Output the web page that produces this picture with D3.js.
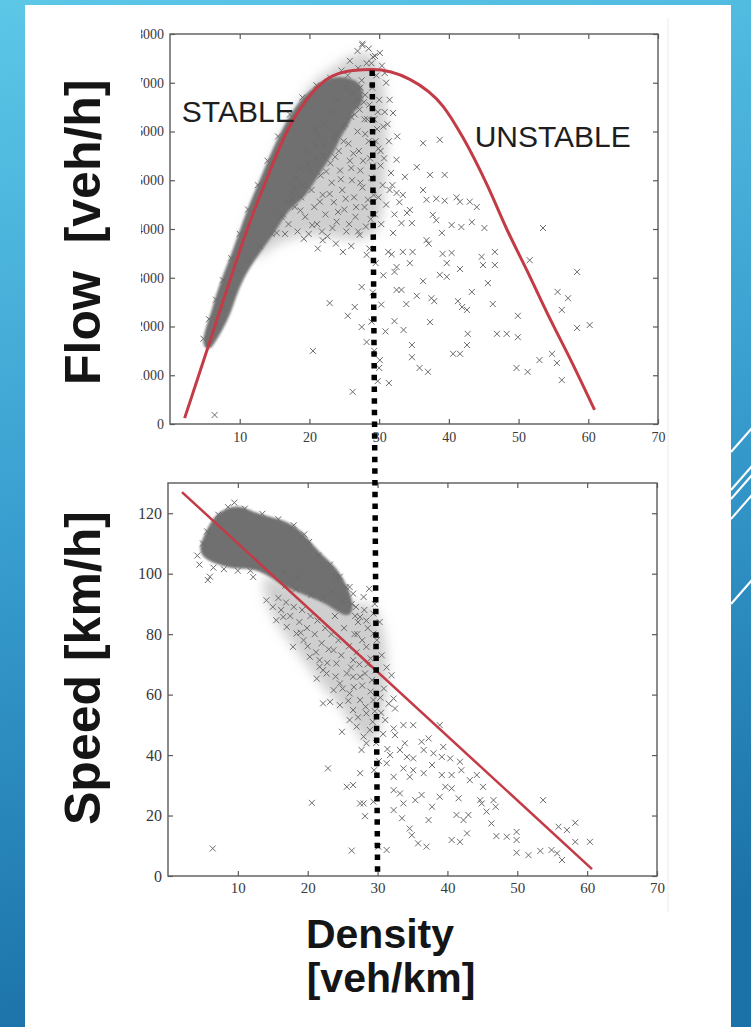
<!DOCTYPE html>
<html>
  <head>
    <title>Flow / Speed vs Density</title>
    <meta charset="utf-8">
    <script src="https://d3js.org/d3.v7.min.js"></script>
    <style>
      body { margin: 0; }
      svg { display: block; }
    </style>
  </head>
  <body>
    <div class="chart"></div>
    <script>

    // ---- values ----
    var flowTicks = [0, 1000, 2000, 3000, 4000, 5000, 6000, 7000, 8000];
    var speedTicks = [0, 20, 40, 60, 80, 100, 120];
    var densityTicks = [10, 20, 30, 40, 50, 60, 70];

    // flow-density curve (density, flow)
    var flowCurve = [[2.1,120],[6.4,1990],[8.6,2950],[10.8,3880],[13.8,5000],[16.9,6030],[19.6,6650],[22.4,7060],
      [26.2,7250],[29.0,7270],[34.4,7070],[39.2,6510],[42.0,5880],[45.5,4900],[48.3,4000],[51.3,3120],
      [54.5,2160],[57.7,1250],[60.9,290]];

    // speed-density line (density, speed)
    var speedLine = [[2.0,127],[60.7,2.3]];

    // critical density marker: top end (density, flow), bottom end (density, speed)
    var criticalTop = [29.0, 7250];
    var criticalBottom = [30.0, 0.7];

    var regimeLabels = [{text: "STABLE", k: 1.7, q: 6190}, {text: "UNSTABLE", k: 43.7, q: 5680}];

    // dense part of the flow cloud (outline)
    var flowCore = [[4.7,1620],[5.15,1925],[6.0,2275],[6.8,2675],[7.8,3075],[9.05,3525],[10.15,3975],[11.7,4575],
      [13.1,5025],[14.65,5575],[16.15,6025],[17.65,6400],[19.3,6725],[21.0,6925],[22.6,7075],[24.55,7115],
      [26.55,7050],[27.7,6875],[27.4,6500],[26.2,6450],[25.8,6200],[24.8,6000],[24.2,5850],[23.5,5600],
      [21.8,5250],[20.5,4950],[19.2,4650],[16.8,4400],[15.3,4020],[14.2,3800],[12.2,3400],
      [10.4,3000],[9.3,2600],[8.6,2280],[7.4,1930],[6.0,1600],[5.6,1550]];

    // looser part of the flow cloud (outline)
    var flowHalo = [[10.0,3700],[12.5,4600],[14.5,5300],[16.5,6050],[19.0,6750],[21.5,7150],[24.5,7400],
      [27.0,7650],[29.3,7600],[30.6,7100],[31.2,6300],[31.0,5300],[30.6,4400],[29.8,3900],[27.0,3750],
      [23.0,3850],[19.0,3900],[15.0,3700],[12.0,3300]];

    // single measurements (density, flow)
    var flowPoints = [
      [5.5,1650],[6.8,2000],[7.6,2380],[8.9,2700],[9.8,3150],[11.2,3350],[12.9,3650],[14.6,3900],[16.0,4250],
      [17.6,4600],[19.0,4900],[20.0,5200],[21.0,5450],[22.2,5700],[23.5,5850],[24.8,6100],[26.0,6300],
      [26.8,6650],[27.3,6900],[25.5,7150],[23.0,7100],[21.0,6950],[19.0,6700],[17.2,6350],[15.5,5900],
      [14.0,5400],[12.6,4900],[11.2,4400],[10.0,3900],[8.8,3400],[7.6,2950],[6.6,2550],[5.6,2150],[4.8,1750],
      [16.2,4300],[17.0,4100],[17.9,4450],[18.3,3950],[18.8,4650],[19.4,4250],[19.9,3900],[20.3,4800],
      [20.7,4450],[21.1,4100],[21.6,5100],[21.9,4700],[22.3,4300],[22.6,3850],[23.0,5350],[23.2,4950],
      [23.5,4550],[23.9,4150],[24.2,5600],[24.4,5200],[24.7,4800],[25.0,4400],[25.3,3950],[25.6,5750],
      [25.8,5400],[26.1,5000],[26.4,4650],[26.6,4250],[26.9,6000],[27.1,5600],[27.3,5200],[27.6,4850],
      [27.9,4450],[28.1,4050],[28.3,6250],[28.5,5800],[28.7,5450],[28.9,5050],[29.2,4700],[29.4,4300],
      [29.7,6050],[29.9,5650],[30.2,5300],[30.5,4900],[30.8,6400],[31.0,4500],[31.4,5800],[31.7,5150],
      [32.2,4300],[22.0,5500],[23.8,5950],[25.1,6150],[26.5,6350],[27.8,6600],[29.0,6900],[29.6,7150],
      [30.4,7350],[28.2,7400],[27.0,7300],[25.8,7450],[26.9,7650],[28.5,7700],[27.6,7800],[29.4,7550],
      [31.0,7000],[30.0,6650],[24.6,7250],[21.3,5900],[28.0,6750],[29.8,6400],[27.9,6250],[30.2,5600],
      [17.4,4720],[18.1,5050],[18.7,4380],[19.2,3800],[19.8,5350],[20.4,4080],[20.9,5700],[21.5,4560],
      [21.8,3950],[22.4,5180],[22.9,4720],[23.3,4020],[23.7,5480],[24.1,4350],[24.5,5020],[24.9,5800],
      [25.2,4620],[25.7,4100],[26.0,5250],[26.3,5550],[26.7,4450],[27.0,3950],[27.3,4950],[27.7,5400],
      [28.0,5950],[28.4,4600],[28.8,4200],[29.1,5300],[29.5,5800],[29.9,4650],[30.3,4100],[30.7,5450],
      [31.2,6150],[31.9,4900],[32.6,5900],[33.4,4700],[27.2,6450],[28.6,6550],[29.3,6250],[30.6,6100],
      [31.5,6650],[26.2,6800],[27.5,7050],[28.9,7400],[30.8,7200],[24.0,6650],[25.3,6900],[23.4,6400],
      [22.0,6150],[20.8,6050],[19.6,5600],[18.6,5250],[17.8,4850],[16.8,4550],[16.5,3900],[21.2,3600],
      [23.8,3700],[26.0,3650],
      [28.6,3600],[29.5,3300],[30.6,3050],[29.1,2700],[30.3,2450],[28.9,2100],[30.9,1900],[29.3,1500],[30.0,1150],
      [27.6,7770],[29.1,7530],[30.1,7610],[32.0,6380],[36.3,5760],[38.7,5830],[32.5,5420],[35.4,5270],
      [37.3,5110],[39.4,5110],[33.7,5070],[31.5,4800],[32.5,4740],[32.9,4550],[36.3,4800],[36.8,4600],
      [38.2,4620],[39.4,4580],[41.1,4650],[41.6,4560],[43.0,4560],[44.0,4450],[34.0,4330],[34.4,4390],
      [37.7,4290],[38.2,4180],[33.2,4120],[34.7,4120],[40.4,4080],[41.8,4040],[43.3,4140],[45.1,4020],
      [53.5,4020],[32.0,3920],[36.8,3770],[39.0,3920],[37.1,3700],[31.3,3530],[31.8,3480],[33.4,3530],
      [34.8,3530],[39.1,3490],[40.4,3510],[39.7,3300],[44.7,3430],[44.9,3260],[46.6,3530],[46.6,3260],
      [51.6,3360],[34.4,3300],[32.2,3120],[32.5,3220],[41.6,3180],[58.4,3120],[38.7,3060],[39.7,3020],
      [36.3,2930],[45.6,2890],[43.3,2710],[32.5,2750],[33.2,2750],[55.6,2710],[57.1,2580],[35.4,2630],
      [37.5,2580],[37.9,2520],[33.9,2460],[41.3,2520],[41.9,2400],[42.6,2340],[46.3,2460],[56.2,2340],
      [49.9,2220],[32.2,2110],[37.3,2090],[33.5,1930],[58.4,1970],[60.2,2030],[42.7,1850],[46.9,1850],
      [48.3,1850],[49.9,1780],[28.2,1680],[34.7,1620],[42.6,1620],[40.6,1440],[41.6,1440],[54.8,1440],
      [34.7,1370],[53.0,1310],[55.5,1250],[30.1,1310],[35.8,1150],[37.0,1070],[49.7,1150],[51.3,1070],
      [56.2,900],[29.8,880],[31.4,840],[6.4,185],[20.5,1500],[26.2,660],[22.9,2480],[21.9,3770],[24.8,3530],
      [26.5,2400],[25.5,2220],[27.5,1990],[27.5,2810],[28.2,3470],[27.2,3880],[15.3,3920]];

    // dense part of the speed cloud (outline)
    var speedCore = [[4.6,108.8],[5.2,112],[6.4,118],[7.9,121],[10.3,122.5],[12.2,120],[14.6,118.5],[17,117],
      [18.9,114.4],[20.8,108.8],[22.7,104.5],[24.2,101.2],[25,97.9],[26,93.6],[26.5,88],[25.6,85.6],
      [23.6,89],[21.8,91.2],[19.3,93.6],[17,95.5],[15,98.8],[13.1,101.2],[11.3,102.1],[8.8,102.1],
      [7,103.5],[5,105.5]];

    // looser part of the speed cloud (outline)
    var speedHalo = [[13.0,101],[16.0,98],[20.0,95],[24.0,92],[27.0,89],[29.5,91],[31.0,81],[31.6,66],
      [30.8,51],[28.8,41],[27.0,48],[24.5,57],[22.0,63],[19.5,71],[17.0,79],[14.5,87]];

    // single measurements (density, speed)
    var speedPoints = [
      [4.2,106],[4.5,103],[5.0,110],[5.6,114],[6.0,99],[7.2,119.5],[8.6,122],[9.5,123.5],[11.0,121.5],
      [11.8,101],[13.5,119.8],[15.8,118],[16.8,96],[18.0,116],[19.5,113],[20.2,110.5],[21.5,106],[22.2,92],
      [23.2,103],[24.6,99],[25.5,95.5],[26.3,90],[26.8,86],[27.2,84],[20.5,93],[18.3,95],[10.0,101],
      [8.0,101.5],[6.5,102],[5.7,97.9],[12.2,98.9],
      [15.0,89],[15.8,92],[16.2,88],[16.9,90.5],[17.5,86],[18.0,89],[18.8,84],[19.2,88],[19.9,82],[20.4,86],
      [21.0,80],[21.4,84.5],[22.0,77],[22.5,82],[23.0,75],[23.4,80],[23.9,86],[24.4,78],[24.8,73],[25.2,82],
      [25.9,76],[26.2,69],[26.7,80],[27.0,74],[27.4,70],[27.8,78],[28.2,67],[28.6,82],[29.0,72],[29.7,68],
      [22.8,70.5],[21.2,74],[20.0,76],[19.0,80.5],[24.0,66],[25.0,62],[26.6,62.5],[28.3,56],[27.2,52.5],
      [25.8,58],[29.6,54.5],[30.4,59],[23.5,94],[25.0,91],[26.9,89],[28.4,84.5],[18.5,99],[16.5,100.5],
      [14.1,91.2],[15.5,84.6],[16.5,85.7],[17.0,82.4],[18.4,80.2],[17.9,75.8],[19.4,78],[20.3,72.5],
      [21.7,71.4],[22.2,68.1],[23.7,74.7],[24.1,70.3],[25.6,67],[26.5,71.4],[27.5,65.9],[28.4,75.8],
      [29.4,80.2],[27.5,85.7],[26.5,93.4],[28.0,92.3],[26.0,95.6],[24.1,98.9],[29.4,86.8],
      [21.7,69.2],[21.3,65.3],[22.7,67],[23.7,61.5],[22.2,57.1],[23.2,57.6],[24.6,63.7],[24.6,56.5],
      [26.0,60.4],[26.5,54.9],[26.0,51.6],[27.5,58.2],[27.0,49.4],[28.4,53.8],[28.0,46.1],[28.9,48.3],
      [28.4,43.9],[27.7,41.7],[29.4,58.2],[29.2,64.8],[26.5,65.9],[24.9,47.7],[22.9,35.6],[27.5,34],
      [25.6,29.5],[26.5,30.1],[27.5,24],[28.2,19.8],[29.4,24.6],[20.6,24.2],[6.4,9.1],[26.3,8.4],
      [28.8,95],[29.6,90],[30.3,84],[29.9,78],[30.6,73],[31.3,69],[28.6,70],[27.1,80],[28.1,88],[27.8,63],
      [30.9,62],[29.0,61],[31.6,57],[30.5,54],[29.3,51],[30.8,47],[29.8,44],[31.4,42],[30.2,38],[29.5,35],
      [32.0,66.4],[32.3,58.7],[32.5,55.4],[31.1,51.6],[32.3,48.8],[33.7,49.9],[35.1,49.9],[38.9,49.9],
      [32.5,46.6],[36.3,44.4],[37.3,45.5],[33.2,41.7],[33.9,43.9],[31.8,40],[34.2,39.4],[35.1,38.9],
      [36.6,41.7],[38.0,40.6],[39.4,42.7],[39.2,39.4],[40.4,38.9],[41.8,37.8],[37.8,36.7],[36.6,34],
      [31.3,37.3],[33.7,35.6],[35.1,35],[32.3,32.8],[34.6,32.8],[39.2,33.4],[40.6,33.4],[42.0,35],
      [43.2,31.7],[44.2,33.4],[45.1,29.5],[32.3,28.4],[33.2,27.3],[35.4,25.1],[36.3,26.8],[37.8,22.9],
      [38.9,26.2],[39.7,29.5],[40.6,29],[41.6,25.7],[33.7,24],[44.7,25.1],[44.9,24],[46.6,25.1],[46.9,22.9],
      [45.6,21.3],[32.3,21.8],[28.0,24],[33.5,19.1],[37.3,18.5],[41.3,20.2],[42.3,18.5],[43.0,20.2],
      [46.3,17.4],[53.7,25.1],[34.6,15.7],[34.9,13.5],[47.0,13.2],[48.5,13],[49.9,14.6],[49.9,11.9],
      [40.6,11.9],[41.8,11.3],[42.8,14.1],[35.8,10.8],[37.0,9.7],[30.1,9.7],[31.3,8.6],[49.9,7.7],
      [51.6,6.9],[53.3,8.3],[54.9,8.6],[55.7,7.5],[56.4,5.3],[55.9,16.3],[57.1,15.2],[58.3,17.6],
      [58.3,11.3],[60.4,11.3]];

    // ---- layout ----
    var width = 751, height = 1027;
    var topBox = {left: 170, right: 658, top: 34, bottom: 424};
    var botBox = {left: 168, right: 657, top: 483, bottom: 876};
    var red = "#c23b46", markColor = "#6b6b6b", frameColor = "#5a5a5a";

    var xTop = d3.scaleLinear().domain([0, 70]).range([topBox.left, topBox.right]);
    var yTop = d3.scaleLinear().domain([0, 8000]).range([topBox.bottom, topBox.top]);
    var xBot = d3.scaleLinear().domain([0, 70]).range([botBox.left, botBox.right]);
    var yBot = d3.scaleLinear().domain([0, 130]).range([botBox.bottom, botBox.top]);

    var svg = d3.select(".chart").append("svg").attr("width", width).attr("height", height);
    var defs = svg.append("defs");

    var grad = defs.append("linearGradient").attr("id", "bg").attr("x1", 0).attr("y1", 0).attr("x2", 0.15).attr("y2", 1);
    grad.append("stop").attr("offset", "0").attr("stop-color", "#5cc7e7");
    grad.append("stop").attr("offset", "0.5").attr("stop-color", "#399fd0");
    grad.append("stop").attr("offset", "1").attr("stop-color", "#1b72a9");

    defs.append("clipPath").attr("id", "figclip")
      .append("rect").attr("x", 141).attr("y", 0).attr("width", 600).attr("height", 460);

    defs.append("filter").attr("id", "haze").attr("x", "-30%").attr("y", "-30%").attr("width", "160%").attr("height", "160%")
      .append("feGaussianBlur").attr("stdDeviation", 6);
    defs.append("filter").attr("id", "fuzz").attr("x", "-10%").attr("y", "-10%").attr("width", "120%").attr("height", "120%")
      .append("feGaussianBlur").attr("stdDeviation", 1.2);

    //background + white panel
    svg.append("rect").attr("width", width).attr("height", height).attr("fill", "url(#bg)");
    svg.append("rect").attr("x", 25).attr("y", 5).attr("width", 706).attr("height", height - 5).attr("fill", "#fff");

    // decorative strokes on the right strip
    [452, 490, 499, 519, 604].forEach(function(y0) {
      svg.append("line").attr("x1", 731).attr("y1", y0).attr("x2", 752).attr("y2", y0 - 24)
        .attr("stroke", "#fff").attr("stroke-width", 2);
    });

    // faint edge of the pasted figure
    svg.append("line").attr("x1", 668).attr("x2", 668).attr("y1", 18).attr("y2", 912)
      .attr("stroke", "#ececec").attr("stroke-width", 1);

    var xMark = "M-3,-3L3,3M-3,3L3,-3";

    function cloud(core, halo, points, xs, ys) {
      var outline = d3.line().x(function(d) { return xs(d[0]); }).y(function(d) { return ys(d[1]); }).curve(d3.curveBasisClosed);

      svg.append("path")
        .datum(halo)
        .attr("d", outline)
        .attr("fill", "#8c8c8c")
        .attr("fill-opacity", 0.42)
        .attr("filter", "url(#haze)");

      svg.append("path")
        .datum(core)
        .attr("d", outline)
        .attr("fill", "#6f6f6f")
        .attr("stroke", "#777")
        .attr("stroke-width", 2)
        .attr("stroke-linejoin", "round")
        .attr("filter", "url(#fuzz)");

      svg.append("g").selectAll("path")
        .data(points)
        .enter()
        .append("path")
        .attr("d", xMark)
        .attr("transform", function(d) { return "translate(" + xs(d[0]) + "," + ys(d[1]) + ")"; })
        .attr("fill", "none")
        .attr("stroke", markColor)
        .attr("stroke-width", 1);
    }

    function frame(box, xs, ys, yValues, labelSize, yClip) {
      var ticksG = svg.append("g").attr("class", "axes");

      var leftOuter = ticksG.append("g");
      if (yClip) leftOuter.attr("clip-path", "url(#figclip)");
      leftOuter.append("g")
        .attr("transform", "translate(" + box.left + ",0)")
        .call(d3.axisLeft(ys).tickValues(yValues).tickFormat(d3.format("d")).tickSizeInner(-5).tickSizeOuter(0).tickPadding(6));

      var bottomG = ticksG.append("g")
        .attr("transform", "translate(0," + box.bottom + ")")
        .call(d3.axisBottom(xs).tickValues(densityTicks).tickFormat(d3.format("d")).tickSizeInner(-5).tickSizeOuter(0).tickPadding(labelSize.xPad));

      ticksG.append("g")
        .attr("transform", "translate(0," + box.top + ")")
        .call(d3.axisTop(xs).tickValues(densityTicks).tickSizeInner(-5).tickSizeOuter(0).tickFormat(""));

      ticksG.append("g")
        .attr("transform", "translate(" + box.right + ",0)")
        .call(d3.axisRight(ys).tickValues(yValues).tickSizeInner(-5).tickSizeOuter(0).tickFormat(""));

      ticksG.selectAll(".domain").remove();
      ticksG.selectAll(".tick line").attr("stroke", frameColor).attr("stroke-width", 1.2);
      ticksG.selectAll("text")
        .attr("font-family", "'Liberation Serif', 'DejaVu Serif', serif")
        .attr("fill", "#3a3a3a");
      leftOuter.selectAll("text").attr("font-size", labelSize.y);
      bottomG.selectAll("text").attr("font-size", labelSize.x);

      svg.append("rect")
        .attr("x", box.left).attr("y", box.top)
        .attr("width", box.right - box.left).attr("height", box.bottom - box.top)
        .attr("fill", "none").attr("stroke", frameColor).attr("stroke-width", 1.4);
    }

    // ---- top: flow vs density ----
    cloud(flowCore, flowHalo, flowPoints, xTop, yTop);

    svg.append("path")
      .datum(flowCurve)
      .attr("d", d3.line().x(function(d) { return xTop(d[0]); }).y(function(d) { return yTop(d[1]); }).curve(d3.curveMonotoneX))
      .attr("fill", "none")
      .attr("stroke", red)
      .attr("stroke-width", 3);

    frame(topBox, xTop, yTop, flowTicks, {y: "14px", x: "14px", xPad: 8}, true);

    svg.selectAll(".regime")
      .data(regimeLabels)
      .enter()
      .append("text")
      .attr("class", "regime")
      .attr("x", function(d) { return xTop(d.k); })
      .attr("y", function(d) { return yTop(d.q); })
      .attr("font-family", "'Liberation Sans', Arial, sans-serif")
      .attr("font-size", "30px")
      .attr("fill", "#1e1e1e")
      .text(function(d) { return d.text; });

    // ---- bottom: speed vs density ----
    cloud(speedCore, speedHalo, speedPoints, xBot, yBot);

    svg.append("path")
      .datum(speedLine)
      .attr("d", d3.line().x(function(d) { return xBot(d[0]); }).y(function(d) { return yBot(d[1]); }))
      .attr("fill", "none")
      .attr("stroke", red)
      .attr("stroke-width", 2.5);

    frame(botBox, xBot, yBot, speedTicks, {y: "16px", x: "15px", xPad: 6}, false);

    // critical density, dotted across both panels
    svg.append("line")
      .attr("x1", xTop(criticalTop[0])).attr("y1", yTop(criticalTop[1]))
      .attr("x2", xBot(criticalBottom[0])).attr("y2", yBot(criticalBottom[1]))
      .attr("stroke", "#000")
      .attr("stroke-width", 5.5)
      .attr("stroke-dasharray", "5.5,6.2");

    // ---- axis titles ----
    var bold = "'Liberation Sans', Arial, sans-serif";

    svg.append("text")
      .attr("transform", "translate(100,385) rotate(-90)")
      .attr("font-family", bold).attr("font-weight", "bold").attr("font-size", "50px")
      .attr("fill", "#151515")
      .style("white-space", "pre")
      .text("Flow  [veh/h]");

    svg.append("text")
      .attr("transform", "translate(100,825) rotate(-90)")
      .attr("font-family", bold).attr("font-weight", "bold").attr("font-size", "50px")
      .attr("fill", "#151515")
      .text("Speed [km/h]");

    svg.append("text")
      .attr("x", 380).attr("y", 948)
      .attr("text-anchor", "middle")
      .attr("font-family", bold).attr("font-weight", "bold").attr("font-size", "41px")
      .attr("fill", "#151515")
      .text("Density");

    svg.append("text")
      .attr("x", 391).attr("y", 992)
      .attr("text-anchor", "middle")
      .attr("font-family", bold).attr("font-weight", "bold").attr("font-size", "41px")
      .attr("fill", "#151515")
      .text("[veh/km]");

    </script>
  </body>
</html>
